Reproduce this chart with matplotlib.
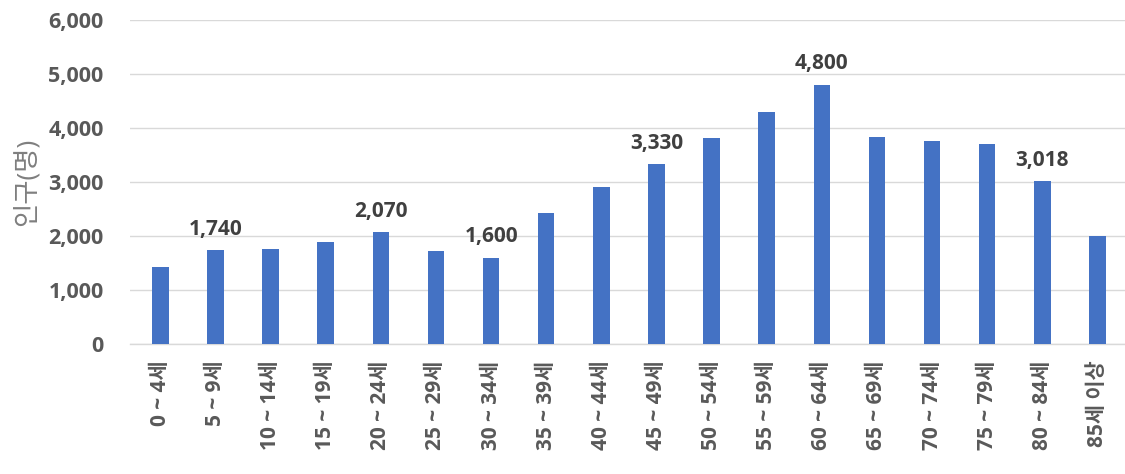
import matplotlib
matplotlib.use("Agg")
import matplotlib.pyplot as plt
from matplotlib.ticker import FuncFormatter

plt.rcParams['font.family'] = ['Open Sans', 'Noto Sans CJK KR', 'DejaVu Sans']

categories = ["0 ~ 4세", "5 ~ 9세", "10 ~ 14세", "15 ~ 19세", "20 ~ 24세", "25 ~ 29세",
              "30 ~ 34세", "35 ~ 39세", "40 ~ 44세", "45 ~ 49세", "50 ~ 54세", "55 ~ 59세",
              "60 ~ 64세", "65 ~ 69세", "70 ~ 74세", "75 ~ 79세", "80 ~ 84세", "85세 이상"]
population = [1425, 1740, 1765, 1880, 2070, 1715, 1600, 2420, 2910, 3330,
              3810, 4290, 4800, 3835, 3755, 3695, 3018, 1995]
labeled = [False, True, False, False, True, False, True, False, False, True,
           False, False, True, False, False, False, True, False]
yticks = [0, 1000, 2000, 3000, 4000, 5000, 6000]
ylabel = "인구(명)"

bar_color = "#4472C4"
text_color = "#595959"

fig = plt.figure(figsize=(11.25, 4.74), dpi=100)
ax = fig.add_axes([0.1156, 0.2743, 0.8844, 0.684])

x = list(range(len(categories)))
ax.bar(x, population, width=0.3, color=bar_color, zorder=3)

for xi, v, show in zip(x, population, labeled):
    if show:
        ax.annotate(f"{v:,}", xy=(xi, v), xytext=(0, 11), textcoords="offset points",
                    ha="center", va="baseline", fontsize=15, fontweight="bold",
                    color="#404040")

ax.set_ylim(0, 6000)
ax.set_xlim(-0.55, 17.5)
ax.set_yticks(yticks)
ax.yaxis.set_major_formatter(FuncFormatter(lambda v, p: f"{int(v):,}"))
ax.grid(axis="y", color="#d9d9d9", linewidth=1, zorder=0)
ax.set_axisbelow(True)

for s in ["top", "right", "left"]:
    ax.spines[s].set_visible(False)
ax.spines["bottom"].set_color("#d9d9d9")
ax.spines["bottom"].set_linewidth(1)

ax.set_xticks(x)
ax.set_xticklabels(categories, rotation=90, fontsize=15, fontweight="bold",
                   color=text_color)
ax.tick_params(axis="x", length=0, pad=12)
ax.tick_params(axis="y", length=0, pad=19, labelsize=15.5, labelcolor=text_color)
for lab in ax.get_yticklabels():
    lab.set_fontweight("bold")

ax.set_ylabel(ylabel, fontsize=19, color="#7f7f7f", labelpad=6)

fig.savefig("out.png", dpi=100)
